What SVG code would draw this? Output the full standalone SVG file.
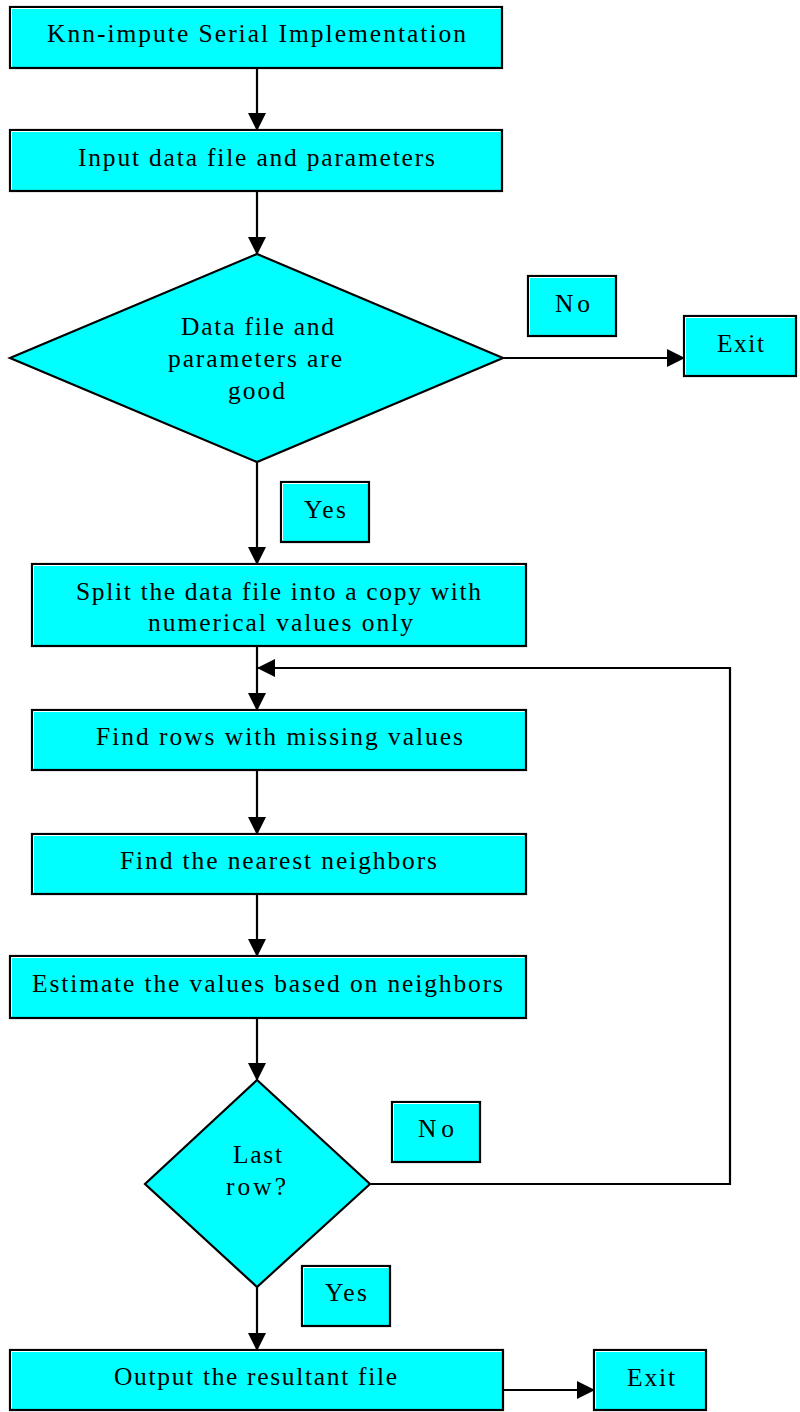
<svg xmlns="http://www.w3.org/2000/svg" width="800" height="1412" viewBox="0 0 800 1412">
  <style>
    .box { fill: #00FFFF; stroke: #000; stroke-width: 2.2; }
    .hl { fill: none; stroke: #fff; stroke-width: 1; }
    .lbl { font-family: "Liberation Serif", "Times New Roman", serif; font-size: 25.5px; fill: #000; }
    .wire { fill: none; stroke: #000; stroke-width: 2.2; }
  </style>
  <defs>
    <marker id="arrow" markerUnits="userSpaceOnUse" markerWidth="19" markerHeight="19" refX="17" refY="9" orient="auto">
      <path d="M0,0 L18,9 L0,18 z" fill="#000"/>
    </marker>
  </defs>
  <rect width="800" height="1412" fill="#fff"/>

  <!-- connectors -->
  <g id="connectors">
    <line class="wire" x1="257" y1="68" x2="257" y2="130" marker-end="url(#arrow)"/>
    <line class="wire" x1="257" y1="191" x2="257" y2="254" marker-end="url(#arrow)"/>
    <line class="wire" x1="503" y1="358" x2="684" y2="358" marker-end="url(#arrow)"/>
    <line class="wire" x1="257" y1="462" x2="257" y2="564" marker-end="url(#arrow)"/>
    <line class="wire" x1="257" y1="646" x2="257" y2="710" marker-end="url(#arrow)"/>
    <line class="wire" x1="257" y1="770" x2="257" y2="834" marker-end="url(#arrow)"/>
    <line class="wire" x1="257" y1="894" x2="257" y2="956" marker-end="url(#arrow)"/>
    <line class="wire" x1="257" y1="1018" x2="257" y2="1080" marker-end="url(#arrow)"/>
    <polyline class="wire" points="371,1184 730,1184 730,668 258,668" marker-end="url(#arrow)"/>
    <line class="wire" x1="257" y1="1287" x2="257" y2="1350" marker-end="url(#arrow)"/>
    <line class="wire" x1="503" y1="1390" x2="594" y2="1390" marker-end="url(#arrow)"/>
  </g>

  <g id="start">
    <rect class="box" x="10" y="7" width="492" height="61"/>
    <path class="hl" d="M11.5,66.5 V8.5 H500.5"/>
    <text class="lbl" x="47" y="42" textLength="419" lengthAdjust="spacing">Knn-impute Serial Implementation</text>
  </g>

  <g id="input">
    <rect class="box" x="10" y="130" width="492" height="61"/>
    <path class="hl" d="M11.5,189.5 V131.5 H500.5"/>
    <text class="lbl" x="78" y="166" textLength="357" lengthAdjust="spacing">Input data file and parameters</text>
  </g>

  <g id="check-input">
    <polygon class="box" points="257,254 10,358 257,462 503,358"/>
    <text class="lbl" x="181" y="335" textLength="153" lengthAdjust="spacing">Data file and</text>
    <text class="lbl" x="168" y="367" textLength="174" lengthAdjust="spacing">parameters are</text>
    <text class="lbl" x="228" y="399" textLength="57" lengthAdjust="spacing">good</text>
  </g>

  <g id="no-1">
    <rect class="box" x="528" y="276" width="88" height="60"/>
    <path class="hl" d="M529.5,334.5 V277.5 H614.5"/>
    <text class="lbl" x="555" y="312" textLength="35" lengthAdjust="spacing">No</text>
  </g>

  <g id="exit-1">
    <rect class="box" x="684" y="316" width="112" height="60"/>
    <path class="hl" d="M685.5,374.5 V317.5 H794.5"/>
    <text class="lbl" x="717" y="352" textLength="47" lengthAdjust="spacing">Exit</text>
  </g>

  <g id="yes-1">
    <rect class="box" x="281" y="482" width="88" height="60"/>
    <path class="hl" d="M282.5,540.5 V483.5 H367.5"/>
    <text class="lbl" x="304" y="518" textLength="42" lengthAdjust="spacing">Yes</text>
  </g>

  <g id="split">
    <rect class="box" x="32" y="564" width="494" height="82"/>
    <path class="hl" d="M33.5,644.5 V565.5 H524.5"/>
    <text class="lbl" x="76" y="600" textLength="405" lengthAdjust="spacing">Split the data file into a copy with</text>
    <text class="lbl" x="148" y="631" textLength="265" lengthAdjust="spacing">numerical values only</text>
  </g>

  <g id="find-rows">
    <rect class="box" x="32" y="710" width="494" height="60"/>
    <path class="hl" d="M33.5,768.5 V711.5 H524.5"/>
    <text class="lbl" x="96" y="745" textLength="367" lengthAdjust="spacing">Find rows with missing values</text>
  </g>

  <g id="find-neighbors">
    <rect class="box" x="32" y="834" width="494" height="60"/>
    <path class="hl" d="M33.5,892.5 V835.5 H524.5"/>
    <text class="lbl" x="120" y="869" textLength="317" lengthAdjust="spacing">Find the nearest neighbors</text>
  </g>

  <g id="estimate">
    <rect class="box" x="10" y="956" width="516" height="62"/>
    <path class="hl" d="M11.5,1016.5 V957.5 H524.5"/>
    <text class="lbl" x="32" y="992" textLength="471" lengthAdjust="spacing">Estimate the values based on neighbors</text>
  </g>

  <g id="last-row">
    <polygon class="box" points="257,1080 145,1184 257,1287 370,1184"/>
    <text class="lbl" x="233" y="1163" textLength="49" lengthAdjust="spacing">Last</text>
    <text class="lbl" x="226" y="1195" textLength="60" lengthAdjust="spacing">row?</text>
  </g>

  <g id="no-2">
    <rect class="box" x="392" y="1102" width="88" height="60"/>
    <path class="hl" d="M393.5,1160.5 V1103.5 H478.5"/>
    <text class="lbl" x="418" y="1137" textLength="36" lengthAdjust="spacing">No</text>
  </g>

  <g id="yes-2">
    <rect class="box" x="302" y="1266" width="88" height="60"/>
    <path class="hl" d="M303.5,1324.5 V1267.5 H388.5"/>
    <text class="lbl" x="325" y="1301" textLength="42" lengthAdjust="spacing">Yes</text>
  </g>

  <g id="output">
    <rect class="box" x="10" y="1350" width="493" height="60"/>
    <path class="hl" d="M11.5,1408.5 V1351.5 H501.5"/>
    <text class="lbl" x="114" y="1385" textLength="283" lengthAdjust="spacing">Output the resultant file</text>
  </g>

  <g id="exit-2">
    <rect class="box" x="594" y="1350" width="112" height="60"/>
    <path class="hl" d="M595.5,1408.5 V1351.5 H704.5"/>
    <text class="lbl" x="627" y="1386" textLength="48" lengthAdjust="spacing">Exit</text>
  </g>
</svg>
